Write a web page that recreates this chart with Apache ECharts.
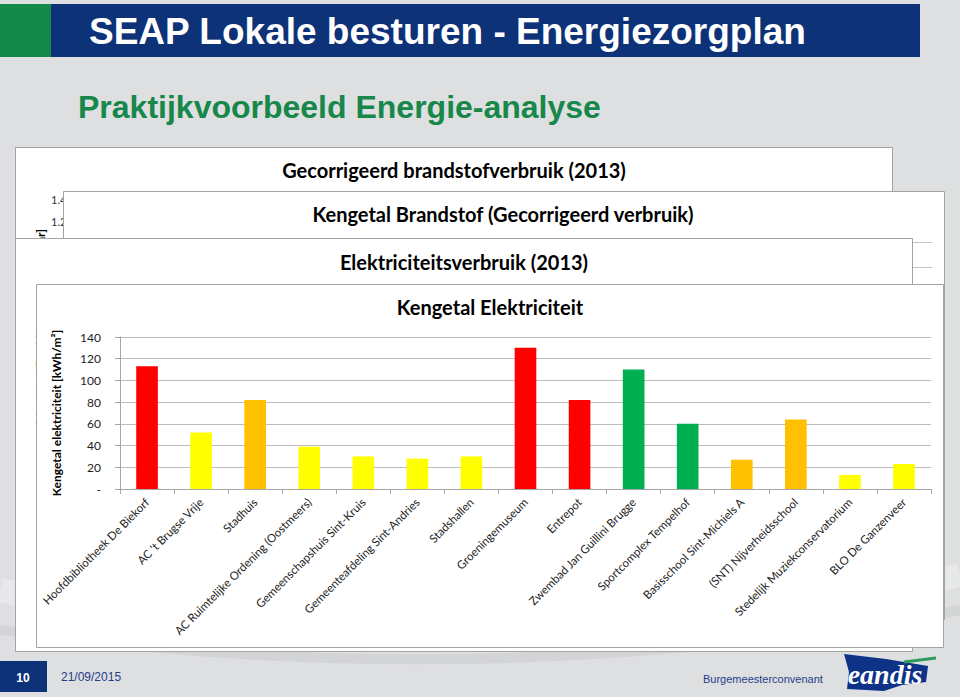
<!DOCTYPE html>
<html>
<head>
<meta charset="utf-8">
<script src="https://cdn.jsdelivr.net/npm/echarts@6/dist/echarts.min.js"></script>
<style>html,body{margin:0;padding:0;background:#dedfe1;}#c{width:960px;height:697px;}</style>
</head>
<body>
<div id="c"></div>
<script>
// ---- data ----
const slideTitle = 'SEAP Lokale besturen - Energiezorgplan';
const slideSubtitle = 'Praktijkvoorbeeld Energie-analyse';
const panelTitles = ['Gecorrigeerd brandstofverbruik (2013)', 'Kengetal Brandstof (Gecorrigeerd verbruik)', 'Elektriciteitsverbruik (2013)', 'Kengetal Elektriciteit'];
const categories = [
  'Hoofdbibliotheek De Biekorf', "AC 't Brugse Vrije", 'Stadhuis', 'AC Ruimtelijke Ordening (Oostmeers)',
  'Gemeenschapshuis Sint-Kruis', 'Gemeenteafdeling Sint-Andries', 'Stadshallen', 'Groeningemuseum',
  'Entrepot', 'Zwembad Jan Guillini Brugge', 'Sportcomplex Tempelhof', 'Basisschool Sint-Michiels A',
  '(SNT) Nijverheidsschool', 'Stedelijk Muziekconservatorium', 'BLO De Ganzenveer'
];
const values = [113, 52, 82, 39, 30, 28, 30, 130, 82, 110, 60, 27, 64, 13, 23];
const levels = ['rood', 'geel', 'oranje', 'geel', 'geel', 'geel', 'geel', 'rood', 'rood', 'groen', 'groen', 'oranje', 'oranje', 'geel', 'geel'];
const yAxisName = 'Kengetal elektriciteit [kWh/m²]';
const yMin = 0, yMax = 140, yStep = 20;
const hiddenTickLabels = ['1.400.000', '1.200.000', '1.000.000'];
const footerPage = '10';
const footerDate = '21/09/2015';
const footerRight = 'Burgemeesterconvenant';
const logoText = 'eandis';

// ---- styles ----
const levelColors = { rood: '#ff0000', geel: '#ffff00', oranje: '#ffc000', groen: '#00b050' };
const calibri = 'Lato, "Open Sans", sans-serif';
const arial = '"Liberation Sans", Arial, sans-serif';
const border = '#a3a3a3';

const chart = echarts.init(document.getElementById('c'), null, { renderer: 'svg', width: 960, height: 697 });

let zc = -200;
function Z() { return zc++; }
const g = [];
// background
g.push({ type: 'rect', z: Z(), shape: { x: 0, y: 0, width: 960, height: 697 }, style: { fill: '#dedfe1' } });
g.push({ type: 'bezierCurve', z: Z(), shape: { x1: 0, y1: 590, cpx1: 250, cpy1: 650, cpx2: 600, cpy2: 665, x2: 960, y2: 575 }, style: { fill: 'none', stroke: '#e7e8e9', lineWidth: 24 } });
g.push({ type: 'bezierCurve', z: Z(), shape: { x1: 0, y1: 630, cpx1: 300, cpy1: 672, cpx2: 620, cpy2: 672, x2: 960, y2: 610 }, style: { fill: 'none', stroke: '#d3d4d6', lineWidth: 10 } });
// header
g.push({ type: 'rect', z: Z(), shape: { x: 0, y: 4, width: 51, height: 53 }, style: { fill: '#13894b' } });
g.push({ type: 'rect', z: Z(), shape: { x: 51, y: 4, width: 869, height: 53 }, style: { fill: '#0d3277' } });
g.push({ type: 'text', z: Z(), style: { text: slideTitle, x: 89, y: 31, fill: '#ffffff', font: 'bold 37px ' + arial, textAlign: 'left', textVerticalAlign: 'middle' } });
g.push({ type: 'text', z: Z(), style: { text: slideSubtitle, x: 78, y: 107, fill: '#17874a', font: 'bold 32px ' + arial, textAlign: 'left', textVerticalAlign: 'middle' } });

// panel 1
g.push({ type: 'rect', z: Z(), shape: { x: 15.5, y: 147.5, width: 877, height: 480 }, style: { fill: '#fff', stroke: border, lineWidth: 1 } });
g.push({ type: 'text', z: Z(), style: { text: panelTitles[0], x: 454, y: 170, fill: '#000', font: 'bold 20px ' + calibri, textAlign: 'center', textVerticalAlign: 'middle' } });
hiddenTickLabels.forEach((t, i) => {
  g.push({ type: 'text', z: Z(), style: { text: t, x: 51, y: 199 + i * 22, fill: '#333', font: '11px ' + calibri, textAlign: 'left', textVerticalAlign: 'middle' } });
});
g.push({ type: 'text', z: Z(), x: 40, y: 229, rotation: Math.PI / 2, style: { text: 'Gecorrigeerd verbruik [kWh/jaar]', x: 0, y: 0, fill: '#000', font: 'bold 12px ' + calibri, textAlign: 'right', textVerticalAlign: 'middle' } });

// panel 2
g.push({ type: 'rect', z: Z(), shape: { x: 63.5, y: 191.5, width: 881, height: 428 }, style: { fill: '#fff', stroke: border, lineWidth: 1 } });
g.push({ type: 'text', z: Z(), style: { text: panelTitles[1], x: 503, y: 214, fill: '#000', font: 'bold 20px ' + calibri, textAlign: 'center', textVerticalAlign: 'middle' } });
[242.5, 267.5, 292.5].forEach(yy => {
  g.push({ type: 'line', z: Z(), shape: { x1: 120, y1: yy, x2: 932, y2: yy }, style: { stroke: '#c4c4c4', lineWidth: 1 } });
});

// panel 3
g.push({ type: 'rect', z: Z(), shape: { x: 15.5, y: 238.5, width: 897, height: 413 }, style: { fill: '#fff', stroke: border, lineWidth: 1 } });
g.push({ type: 'text', z: Z(), style: { text: panelTitles[2], x: 464, y: 262, fill: '#000', font: 'bold 20px ' + calibri, textAlign: 'center', textVerticalAlign: 'middle' } });
g.push({ type: 'text', z: Z(), x: 40, y: 383, rotation: Math.PI / 2, style: { text: 'Elektriciteit [kWh]', x: 0, y: 0, fill: '#000', font: 'bold 12px ' + calibri, textAlign: 'center', textVerticalAlign: 'middle' } });

// panel 4
g.push({ type: 'rect', z: Z(), shape: { x: 36.5, y: 284.5, width: 907, height: 363 }, style: { fill: '#fff', stroke: border, lineWidth: 1 } });
g.push({ type: 'text', z: Z(), style: { text: panelTitles[3], x: 490, y: 307, fill: '#000', font: 'bold 20px ' + calibri, textAlign: 'center', textVerticalAlign: 'middle' } });

// footer
g.push({ type: 'rect', z: Z(), shape: { x: 0, y: 661, width: 47, height: 31 }, style: { fill: '#0d3277' } });
g.push({ type: 'text', z: Z(), style: { text: footerPage, x: 23, y: 678, fill: '#fff', font: 'bold 12px ' + arial, textAlign: 'center', textVerticalAlign: 'middle' } });
g.push({ type: 'text', z: Z(), style: { text: footerDate, x: 61, y: 677, fill: '#24408a', font: '12px ' + arial, textAlign: 'left', textVerticalAlign: 'middle' } });
g.push({ type: 'text', z: Z(), style: { text: footerRight, x: 703, y: 679, fill: '#24408a', font: '11px ' + arial, textAlign: 'left', textVerticalAlign: 'middle' } });
// logo
g.push({ type: 'polygon', z: Z(), shape: { points: [[844, 654], [886, 659], [928, 666], [926, 682], [902, 685], [884, 691], [847, 689], [849, 672]] }, style: { fill: '#0d3287' } });
g.push({ type: 'line', z: Z(), shape: { x1: 904, y1: 662, x2: 936, y2: 658 }, style: { stroke: '#2e9c57', lineWidth: 3 } });
g.push({ type: 'text', z: Z(), style: { text: logoText, x: 885, y: 674, fill: '#fff', font: 'italic bold 28px "Liberation Serif", serif', textAlign: 'center', textVerticalAlign: 'middle' } });

const option = {
  animation: false,
  backgroundColor: 'transparent',
  graphic: { elements: g },
  grid: { left: 120, right: 29, top: 337, bottom: 208, containLabel: false },
  xAxis: {
    type: 'category',
    data: categories,
    axisLine: { show: true, lineStyle: { color: '#a6a6a6', width: 1 } },
    axisTick: { show: true, alignWithLabel: false, length: 5, lineStyle: { color: '#a6a6a6' } },
    axisLabel: { rotate: 45, interval: 0, margin: 11, color: '#222', fontFamily: calibri, fontSize: 11.5 }
  },
  yAxis: {
    type: 'value',
    min: yMin, max: yMax, interval: yStep,
    name: yAxisName,
    nameLocation: 'middle',
    nameRotate: 90,
    nameGap: 58,
    nameTextStyle: { color: '#000', fontFamily: calibri, fontSize: 12, fontWeight: 'bold' },
    axisLine: { show: true, lineStyle: { color: '#a6a6a6' } },
    axisTick: { show: true, length: 5, lineStyle: { color: '#a6a6a6' } },
    axisLabel: { margin: 19, color: '#222', fontFamily: calibri, fontSize: 12, formatter: v => (v === 0 ? '-' : String(v)) },
    splitLine: { show: true, lineStyle: { color: '#bcbcbc', width: 1 } }
  },
  series: [{
    type: 'bar',
    barWidth: '40%',
    data: values.map((v, i) => ({ value: v, itemStyle: { color: levelColors[levels[i]] } })),
    itemStyle: { borderWidth: 0 }
  }]
};
chart.setOption(option);
</script>
</body>
</html>
